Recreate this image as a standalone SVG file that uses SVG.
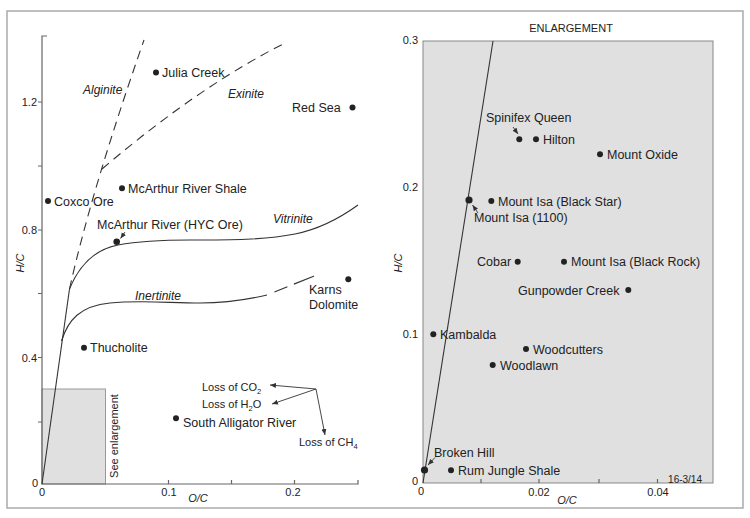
<svg xmlns="http://www.w3.org/2000/svg" width="750" height="518" viewBox="0 0 750 518">
<style>
text{font-family:"Liberation Sans",Arial,sans-serif;fill:#222}
.lbl{font-size:12.5px}
.cv{font-size:12px;font-style:italic}
.ax{font-size:11px}
.sm{font-size:11px}
.axis{stroke:#666;stroke-width:1.2;fill:none}
.curve{stroke:#333;stroke-width:1.1;fill:none}
.dash{stroke:#333;stroke-width:1.1;fill:none;stroke-dasharray:9 6}
.arr{stroke:#333;stroke-width:0.9;fill:none;marker-end:url(#ah)}
.dot{fill:#222}
</style>
<defs>
<marker id="ah" markerUnits="userSpaceOnUse" markerWidth="7" markerHeight="6" refX="6" refY="3" orient="auto">
<path d="M0,0.5 L6,3 L0,5.5 Z" fill="#333"/>
</marker>
</defs>
<rect x="7" y="11" width="736" height="497" fill="none" stroke="#aaa" stroke-width="1.5"/>

<g id="left-plot">
<rect id="enlarge-box" x="42" y="389" width="63.5" height="95" fill="#e0e0e1" stroke="#999" stroke-width="1"/>
<path class="axis" d="M47,36 H42 V484 H358 V480 M168.5,484 V480 M231.5,484 V480 M294.5,484 V480 M42,102 H38 M42,166 H38 M42,230 H38 M42,293.5 H38 M42,357.5 H38 M42,422 H38"/>
<text class="ax" x="37" y="106" text-anchor="end">1.2</text>
<text class="ax" x="37" y="234" text-anchor="end">0.8</text>
<text class="ax" x="37" y="361.5" text-anchor="end">0.4</text>
<text class="ax" x="38" y="487" text-anchor="end">0</text>
<text class="ax" x="42" y="496" text-anchor="middle">0</text>
<text class="ax" x="169" y="496" text-anchor="middle">0.1</text>
<text class="ax" x="293" y="496" text-anchor="middle">0.2</text>
<text class="ax" x="198" y="502" text-anchor="middle" font-style="italic">O/C</text>
<text class="ax" transform="translate(24,263) rotate(-90)" text-anchor="middle" font-style="italic">H/C</text>
<text class="sm" transform="translate(117.5,436) rotate(-90)" text-anchor="middle" font-size="11.5">See enlargement</text>
</g>

<g id="right-plot">
<rect id="enlargement" x="423" y="41" width="290" height="442" fill="#e0e0e1" stroke="#888" stroke-width="1"/>
<path class="axis" d="M481,483 V479 M539,483 V479 M599,483 V479 M657.5,483 V479"/>
<text class="sm" x="571" y="32" text-anchor="middle">ENLARGEMENT</text>
<text class="ax" x="418" y="44" text-anchor="end">0.3</text>
<text class="ax" x="418" y="191" text-anchor="end">0.2</text>
<text class="ax" x="418" y="338" text-anchor="end">0.1</text>
<text class="ax" x="418" y="485" text-anchor="end">0</text>
<text class="ax" x="421" y="495" text-anchor="middle">0</text>
<text class="ax" x="539" y="496" text-anchor="middle">0.02</text>
<text class="ax" x="658" y="496" text-anchor="middle">0.04</text>
<text class="ax" x="567" y="504" text-anchor="middle" font-style="italic">O/C</text>
<text class="ax" transform="translate(402,263) rotate(-90)" text-anchor="middle" font-style="italic">H/C</text>
<text x="702" y="482.5" text-anchor="end" font-size="10">16-3/14</text>
</g>

<g id="curves">
<path id="line-left" class="curve" d="M42,484 L69.5,289"/>
<path id="alginite" class="dash" d="M69.5,289 Q91.7,189.5 144,40"/>
<path id="exinite" class="dash" d="M102,169 Q200,85.5 287,42"/>
<path id="vitrinite" class="curve" d="M69.5,289 C78,268 92,250 118,245 C140,241 160,240 190,240 C230,240 265,240 295,234 C320,229 340,218 358,205"/>
<path id="inertinite" class="curve" d="M61.5,341 C68,320 80,306 110,303 C140,300 170,303 200,303 C230,303 250,299 267,295"/>
<path id="inertinite-dash" class="curve" d="M267,295 L314,276" stroke-dasharray="0 8 14 7 20"/>
<path id="line-right" class="curve" d="M423,483 L493,41"/>
</g>

<g id="curve-labels">
<text class="cv" x="83" y="94">Alginite</text>
<text class="cv" x="228" y="98">Exinite</text>
<text class="cv" x="273" y="223">Vitrinite</text>
<text class="cv" x="135" y="300">Inertinite</text>
</g>

<g id="left-points">
<g id="julia-creek"><circle class="dot" cx="156" cy="72.5" r="3"/><text class="lbl" x="162" y="77">Julia Creek</text></g>
<g id="red-sea"><circle class="dot" cx="352.5" cy="107.5" r="3"/><text class="lbl" x="292" y="112">Red Sea</text></g>
<g id="mcarthur-shale"><circle class="dot" cx="122" cy="188.3" r="3"/><text class="lbl" x="128" y="192.5">McArthur River Shale</text></g>
<g id="coxco"><circle class="dot" cx="48" cy="201" r="3"/><text class="lbl" x="54" y="205.5">Coxco Ore</text></g>
<g id="mcarthur-hyc"><circle class="dot" cx="116.7" cy="241.7" r="3.3"/><text class="lbl" x="97" y="228.5">McArthur River (HYC Ore)</text></g>
<g id="karns"><circle class="dot" cx="348.3" cy="279.3" r="3"/><text class="lbl" x="309" y="293.5">Karns</text><text class="lbl" x="309" y="308.5">Dolomite</text></g>
<g id="thucholite"><circle class="dot" cx="84" cy="347.7" r="3"/><text class="lbl" x="90" y="352">Thucholite</text></g>
<g id="south-alligator"><circle class="dot" cx="176" cy="418.3" r="3"/><text class="lbl" x="183" y="427">South Alligator River</text></g>
<g id="loss-co2"><text class="sm" x="202" y="391">Loss of CO<tspan font-size="7.5" dy="2.5">2</tspan></text></g>
<g id="loss-h2o"><text class="sm" x="202" y="408">Loss of H<tspan font-size="7.5" dy="2.5">2</tspan><tspan dy="-2.5">O</tspan></text></g>
<g id="loss-ch4"><text class="sm" x="299" y="446">Loss of CH<tspan font-size="7.5" dy="2.5">4</tspan></text></g>
</g>

<g id="right-points">
<g id="spinifex"><circle class="dot" cx="519.3" cy="139.3" r="3"/><text class="lbl" x="486" y="121.5">Spinifex Queen</text></g>
<g id="hilton"><circle class="dot" cx="536" cy="139.3" r="3"/><text class="lbl" x="543" y="143.5">Hilton</text></g>
<g id="mount-oxide"><circle class="dot" cx="600" cy="154.3" r="3"/><text class="lbl" x="607" y="158.5">Mount Oxide</text></g>
<g id="mount-isa-black-star"><circle class="dot" cx="491.3" cy="201" r="3"/><text class="lbl" x="498" y="205.5">Mount Isa (Black Star)</text></g>
<g id="mount-isa-1100"><circle class="dot" cx="469" cy="200" r="3.6"/><text class="lbl" x="474" y="222">Mount Isa (1100)</text></g>
<g id="cobar"><circle class="dot" cx="517.7" cy="261.7" r="3"/><text class="lbl" x="477" y="266">Cobar</text></g>
<g id="mount-isa-black-rock"><circle class="dot" cx="564" cy="261.7" r="3"/><text class="lbl" x="571" y="266">Mount Isa (Black Rock)</text></g>
<g id="gunpowder"><circle class="dot" cx="628.3" cy="290" r="3"/><text class="lbl" x="518" y="294.5">Gunpowder Creek</text></g>
<g id="kambalda"><circle class="dot" cx="433.3" cy="334.3" r="3"/><text class="lbl" x="440" y="338.5">Kambalda</text></g>
<g id="woodcutters"><circle class="dot" cx="526" cy="349" r="3"/><text class="lbl" x="533" y="353.5">Woodcutters</text></g>
<g id="woodlawn"><circle class="dot" cx="492.7" cy="365" r="3"/><text class="lbl" x="500" y="369.5">Woodlawn</text></g>
<g id="broken-hill"><circle class="dot" cx="424.5" cy="470" r="3.6"/><text class="lbl" x="434" y="457">Broken Hill</text></g>
<g id="rum-jungle"><circle class="dot" cx="451" cy="470.3" r="3"/><text class="lbl" x="458" y="474.5">Rum Jungle Shale</text></g>
</g>

<g id="connectors">
<path class="arr" d="M125,232 L120.5,238.5"/>
<path class="arr" d="M316,389 L270,385"/>
<path class="arr" d="M316,389 L272,404"/>
<path class="arr" d="M316,389 L325,435"/>
<path class="arr" d="M513,127 L518,134"/>
<path class="arr" d="M478,213 L472.5,205"/>
<path class="arr" d="M435,457.5 L428,465"/>
</g>
</svg>
